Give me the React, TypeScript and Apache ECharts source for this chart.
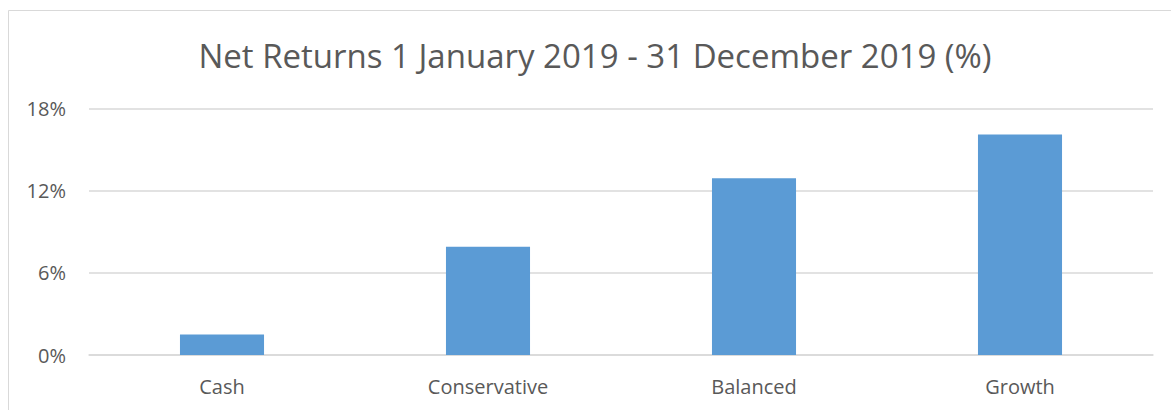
import React, { useEffect, useRef } from "react";
import * as echarts from "echarts";

const categories = ["Cash", "Conservative", "Balanced", "Growth"];
const returns = [1.5, 7.9, 12.9, 16.1];
const yTicks = [0, 6, 12, 18];
const titleText = "Net Returns 1 January 2019 - 31 December 2019 (%)";

export default function App() {
  const ref = useRef<HTMLDivElement>(null);
  useEffect(() => {
    document.body.style.margin = "0";
    const chart = echarts.init(ref.current!, null, { renderer: "svg" });
    chart.setOption({
      animation: false,
      backgroundColor: "#ffffff",
      textStyle: { fontFamily: "Open Sans" },
      graphic: [
        {
          type: "rect",
          shape: { x: 8.5, y: 10.5, width: 1300, height: 600 },
          style: { fill: "none", stroke: "#d9d9d9", lineWidth: 1 },
          silent: true,
        },
        {
          type: "text",
          x: 595,
          y: 55,
          style: {
            text: titleText,
            fill: "#595959",
            fontSize: 33,
            fontFamily: "Open Sans",
            textAlign: "center",
            textVerticalAlign: "middle",
          },
        },
      ],
      grid: { left: 89, right: 18, top: 108.5, bottom: 55, containLabel: false },
      xAxis: {
        type: "category",
        data: categories,
        axisLine: { show: true, lineStyle: { color: "#d9d9d9", width: 1.5 } },
        axisTick: { show: false },
        axisLabel: { color: "#595959", fontSize: 20, margin: 21 },
      },
      yAxis: {
        type: "value",
        min: yTicks[0],
        max: yTicks[yTicks.length - 1],
        interval: 6,
        axisLine: { show: false },
        axisTick: { show: false },
        splitLine: { lineStyle: { color: "#d9d9d9", width: 1.5 } },
        axisLabel: {
          color: "#595959",
          fontSize: 20,
          margin: 23,
          formatter: (v: number) => v + "%",
        },
      },
      series: [
        {
          type: "bar",
          data: returns,
          barWidth: "31.6%",
          itemStyle: { color: "#5b9bd5" },
        },
      ],
    });
    return () => chart.dispose();
  }, []);
  return (
    <div
      ref={ref}
      style={{ position: "absolute", left: 0, top: 0, width: 1171, height: 410 }}
    />
  );
}
